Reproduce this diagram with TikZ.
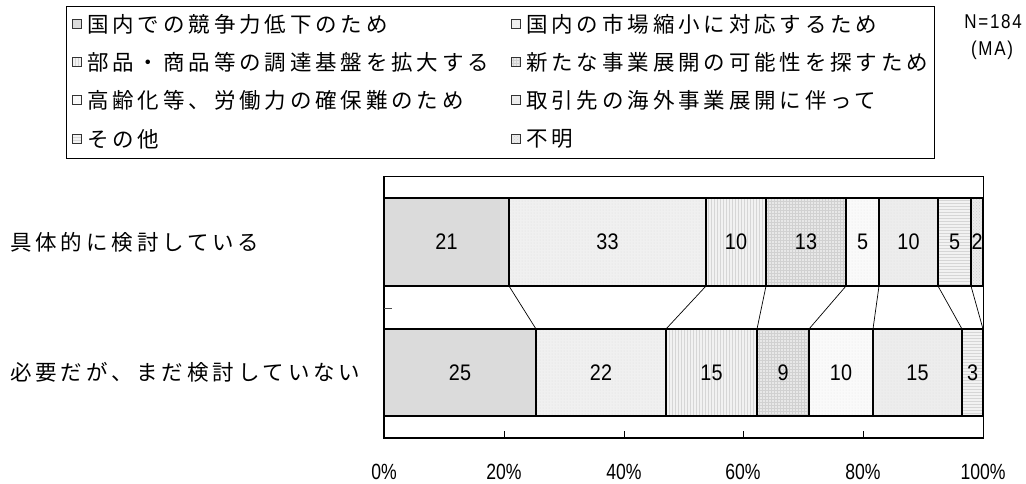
\documentclass[tikz,border=0pt]{standalone}
\usepackage{fontspec}
\setmainfont{Liberation Sans}
\newfontfamily\jp[LetterSpace=18]{Noto Sans CJK JP}
\newfontfamily\nfont[LetterSpace=10]{Liberation Sans}
\usetikzlibrary{patterns}
\begin{document}
\begin{tikzpicture}[x=1pt,y=-1pt,
  jtext/.style={font=\jp\fontsize{21.5}{21.5}\selectfont, inner sep=0pt, anchor=west},
  val/.style={font=\fontsize{22.5}{22.5}\selectfont, inner sep=0pt, xscale=0.88, transform shape},
  axlab/.style={font=\fontsize{22}{22}\selectfont, inner sep=0pt, xscale=0.8, transform shape},
  segbox/.style={draw=black, line width=1.3pt},
  s1/.style={fill=black!14},
  s2/.style={preaction={fill=black!6}, pattern=dots, pattern color=black!14},
  s3/.style={preaction={fill=black!5}, pattern=vertical lines, pattern color=black!16},
  s4/.style={preaction={fill=black!9}, pattern=grid, pattern color=black!18},
  s5/.style={preaction={fill=black!2}, pattern=dots, pattern color=black!10},
  s6/.style={preaction={fill=black!7}, pattern=dots, pattern color=black!12},
  s7/.style={preaction={fill=black!5}, pattern=horizontal lines, pattern color=black!16},
  s8/.style={preaction={fill=black!8}, pattern=crosshatch dots, pattern color=black!18},
  legsq/.style={draw=black!80, line width=0.8pt},
  sline/.style={draw=black, line width=0.7pt},
  ntext/.style={font=\nfont\fontsize{20}{20}\selectfont, xscale=0.85, transform shape, inner sep=0pt}
]
\useasboundingbox (0,0) rectangle (1026,483);

% legend
\draw[line width=1pt] (66,6) rectangle (934,158);
\foreach \y/\s/\t/\ss/\tt [count=\i] in {
  24/s1/国内での競争力低下のため/s2/国内の市場縮小に対応するため,
  62/s3/部品・商品等の調達基盤を拡大する/s4/新たな事業展開の可能性を探すため,
  100/s5/高齢化等、労働力の確保難のため/s6/取引先の海外事業展開に伴って,
  139/s7/その他/s8/不明}{
  \draw[legsq,\s] (72.5,\y-4.5) rectangle +(9,9);
  \node[jtext] (la\i) at (87,\y) {\t};
  \draw[legsq,\ss] (511.5,\y-4.5) rectangle +(9,9);
  \node[jtext] (lb\i) at (526,\y) {\tt};
}
\node[ntext, anchor=east] (n) at (1022,22) {N=184};
\node[ntext] (ma) at (992,50) {(MA)};

% plot frame
\draw[line width=1pt] (384,176) rectangle (983,438);

% bar 1
\foreach \a/\b/\s/\v [count=\i] in {384/509/s1/21, 509/706/s2/33, 706/766/s3/10, 766/846/s4/13, 846/879/s5/5, 879/938/s6/10, 938/971/s7/5, 971/983/s8/2}{
  \draw[segbox,\s] (\a,198) rectangle (\b,286);
  \node[val] (u\i) at ({(\a+\b)/2},242) {\v};
  \coordinate (p\i) at (\b,286);
}
% bar 2
\foreach \a/\b/\s/\v [count=\i] in {384/536/s1/25, 536/666/s2/22, 666/757/s3/15, 757/809/s4/9, 809/873/s5/10, 873/962/s6/15, 962/983/s7/3}{
  \draw[segbox,\s] (\a,329) rectangle (\b,416);
  \node[val] (w\i) at ({(\a+\b)/2},372.5) {\v};
  \coordinate (q\i) at (\b,329);
}
% series lines
\foreach \i in {1,...,7}{ \draw[sline] (p\i) -- (q\i); }

% axes
\draw[line width=1.6pt] (384,176) -- (384,438) -- (983,438);
\draw[line width=1pt, black!70] (384,308) -- (392,308);
\foreach \x in {504,624,743,863}{ \draw[line width=0.9pt] (\x,438) -- (\x,431); }
\foreach \x/\t [count=\i] in {384/0\%, 504/20\%, 624/40\%, 743/60\%, 863/80\%, 983/100\%}{
  \node[axlab] (t\i) at (\x,472) {\t};
}

% category labels
\node[jtext] (c1) at (10,242) {具体的に検討している};
\node[jtext] (c2) at (10,372.5) {必要だが、まだ検討していない};
\end{tikzpicture}
\end{document}
